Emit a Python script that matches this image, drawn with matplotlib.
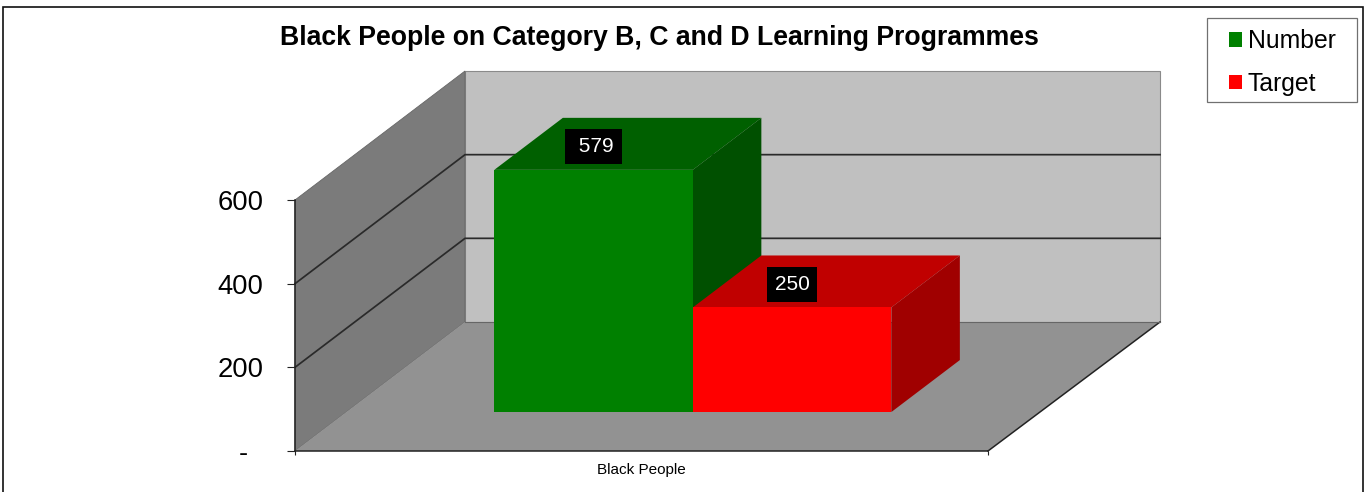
import matplotlib
matplotlib.use("Agg")
import matplotlib.pyplot as plt
from matplotlib.patches import Polygon, Patch, Rectangle

# ---- data ----
title = "Black People on Category B, C and D Learning Programmes"
categories = ["Black People"]
series_names = ["Number", "Target"]
number_values = [579]
target_values = [250]
number_labels = [" 579"]
target_labels = ["250"]
y_ticks = [0, 200, 400, 600]
y_tick_labels = ["-  ", "200", "400", "600"]

# ---- style / layout ----
W, H = 1372, 492
plt.rcParams["font.family"] = ["Liberation Sans", "DejaVu Sans"]
fig = plt.figure(figsize=(W / 100, H / 100), dpi=100, facecolor="white")
L, R, B, T = 295, 988, 451, 200
ax = fig.add_axes([L / W, 1 - B / H, (R - L) / W, (B - T) / H])
ax.set_xlim(0, 1)
ax.set_ylim(0, 600)
ax.patch.set_visible(False)

px_x = 1 / (R - L)
px_y = 600 / (B - T)
DX, DY = 170 * px_x, 129 * px_y   # full depth of the floor in data units
BACK_R = 1 + DX + 2 * px_x        # right end of the back wall
BASE = 0.302                      # bar front, as a share of depth
BAR_D = 0.403                     # bar depth, as a share of depth
BAR_W = 198.5 * px_x

def poly(pts, fc, ec="none", lw=0, z=1):
    ax.add_patch(Polygon(pts, closed=True, facecolor=fc, edgecolor=ec, linewidth=lw,
                         zorder=z, clip_on=False))

# walls and floor
top = y_ticks[-1]
poly([(DX, DY), (BACK_R, DY), (BACK_R, top + DY), (DX, top + DY)], "#C0C0C0", "#8A8A8A", 0.8, 1)
poly([(0, 0), (DX, DY), (DX, top + DY), (0, top)], "#7B7B7B", "#666666", 0.6, 1.1)
poly([(0, 0), (1, 0), (BACK_R, DY), (DX, DY)], "#929292", "none", 0, 1.2)
ax.plot([1, BACK_R], [0, DY], color="#222222", lw=1.1, zorder=1.3, clip_on=False)
ax.plot([DX, BACK_R], [DY, DY], color="#666666", lw=0.8, zorder=1.3, clip_on=False)

# gridlines
for v in y_ticks[1:-1]:
    ax.plot([0, DX, BACK_R], [v, v + DY, v + DY], color="#2A2A2A", lw=1.25, zorder=1.4, clip_on=False)

# bars
bar_series = [
    (number_values, number_labels, "#008000", "#006000", "#005000", -0.5),
    (target_values, target_labels, "#FF0000", "#C00000", "#A00000", 0.5),
]
x0 = 0.5 + DX * BASE
y0 = DY * BASE
dx, dy = DX * BAR_D, DY * BAR_D
for values, labels, front, top_c, side_c, off in bar_series:
    for v, lab in zip(values, labels):
        c = x0 + off * BAR_W
        xl, xr = c - BAR_W / 2, c + BAR_W / 2
        yt = y0 + v
        poly([(xl, yt), (xr, yt), (xr + dx, yt + dy), (xl + dx, yt + dy)], top_c, z=2)
        poly([(xr, y0), (xr + dx, y0 + dy), (xr + dx, yt + dy), (xr, yt)], side_c, z=2)
        ax.bar(c, v, width=BAR_W, bottom=y0, color=front, zorder=3 + off * 0.1, clip_on=False)
        ax.text(c, yt + 23 * px_y, lab, color="white", fontsize=15,
                ha="center", va="center", zorder=5,
                bbox=dict(facecolor="black", edgecolor="none",
                          boxstyle="square,pad=0.38"))

# axes furniture
for s in ("top", "right"):
    ax.spines[s].set_visible(False)
for s in ("left", "bottom"):
    ax.spines[s].set_color("#222222")
    ax.spines[s].set_linewidth(1.1)
    ax.spines[s].set_zorder(1.5)
ax.set_yticks(y_ticks, y_tick_labels, fontsize=19.7)
ax.tick_params(axis="y", length=5.8, width=0.8, color="#222222", pad=17)
ax.set_xticks([0, 1], ["", ""])
ax.set_xticks([0.5], categories, minor=True, fontsize=11)
ax.tick_params(axis="x", which="major", length=3, width=0.8, color="#222222")
ax.tick_params(axis="x", which="minor", length=0, pad=8.7)

fig.text(659.5 / W, 1 - 38 / H, title, fontsize=19.15, fontweight="bold", ha="center", va="center")

# outer frame
fig.add_artist(Rectangle((3 / W, -0.05), 1360 / W, 1.05 - 7 / H, transform=fig.transFigure,
                         facecolor="none", edgecolor="#111111", linewidth=1.2, zorder=0))

# legend
fig.add_artist(Rectangle((1207 / W, 1 - 102 / H), 150 / W, 84 / H, transform=fig.transFigure,
                         facecolor="white", edgecolor="#707070", linewidth=0.9, zorder=0.5))
handles = [Patch(facecolor=c, edgecolor="none") for c in ("#008000", "#FF0000")]
leg = fig.legend(handles, series_names, loc="upper left", bbox_to_anchor=(1215 / W, 1 - 15.5 / H),
                 borderaxespad=0, fontsize=17.8, frameon=False,
                 handlelength=0.53, handleheight=0.53,
                 handletextpad=0.24, labelspacing=0.76, borderpad=0.55)

fig.savefig("out.png", dpi=100)
